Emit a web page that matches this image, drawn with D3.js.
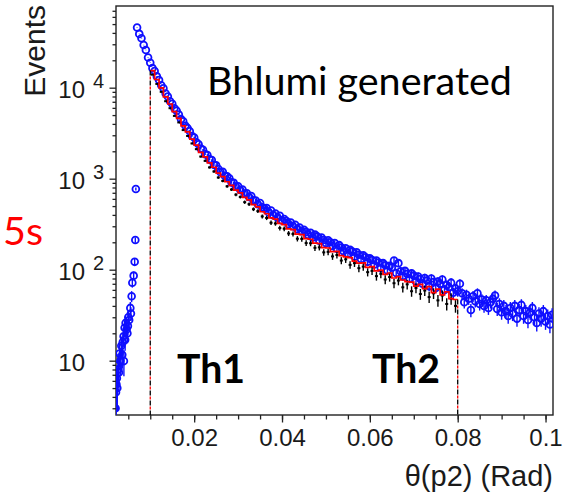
<!DOCTYPE html>
<html><head><meta charset="utf-8">
<script src="https://cdn.jsdelivr.net/npm/d3@7"></script>
<style>body{margin:0;background:#fff} svg{display:block}</style>
</head><body>
<svg id="c" width="572" height="495"></svg>
<script>
// ---- data ----
const binStart = 0.0070, binWidth = 0.0005;   // blue (Bhlumi) bin centres
const blueEvents = [45800,39000,34900,29400,25900,21500,18800,16400,15250,13300,
12150,10650,9850,8640,7990,7080,6640,5930,5590,5060,
4510,4270,3820,3590,3320,2950,2830,2510,2390,2140,
2080,1860,1820,1630,1600,1420,1400,1280,1180,1190,
1070,1060,1010,910,900,820,826,752,760,688,
692,630,645,580,575,524,541,485,470,475,
425,446,398,415,372,392,348,360,342,316,
330,300,312,279,290,264,275,260,240,255,
226,244,232,208,226,212,196,210,200,182,
196,170,186,175,160,172,150,165,158,140,
155,146,131,144,137,122,133,128,114,126,
120,104,118,112,98,110,106,126,92,118,
96,85,97,90,80,91,86,74,84,79,
70,81,76,66,80,73,63,74,70,78,
60,68,64,72,56,62,58,70,55,44,
53,48,36,51,45,55,42,47,40,46,
38,44,48,52,37,42,34,40,35,31,
38,33,40,29,36,41,31,35,28,34,
38,30,26,33,29,35,27,31,25,32];
const edgeTheta = [0.0021,0.0022,0.0023,0.0024,0.0025,0.00263,0.00275,0.00286,0.0030,0.0032,
0.00341,0.00363,0.00375,0.00393,0.0040,0.00416,0.00428,0.00439,0.0046,0.0048,
0.00491,0.0050,0.0052,0.00546,0.0056,0.00576,0.00592,0.00622,0.00645,0.0066,0.00672];
const edgeEvents = [3,4.5,5.5,6.4,5,8.9,8,7.4,12,10,
14.6,11.6,16,18.5,9.9,23,17,26,22,20,
24,30,28,38,33,51,72,86,122,212,771];
const redStart = 0.010, redWidth = 0.001;     // red histogram bins
const redEvents = [15400,12300,9950,7930,6620,5470,4600,3800,3270,2720,
2340,1950,1740,1490,1335,1150,1052,925,846,748,
700,622,584,519,490,433,412,371,360,322,
313,281,276,246,243,219,216,196,194,175,
173,158,159,143,138,136,124,118,119,106,
108,97,99,89,92,81,84,77,74,73,
66,69,62,65,56,61,53,57,48,47];
const blackEvents = [13900,11000,9000,7100,5950,4900,4150,3420,2950,2440,
2110,1750,1570,1330,1200,1030,945,825,760,668,
630,552,525,462,440,385,370,328,322,287,
282,250,247,219,218,196,195,174,176,155,
157,140,145,126,130,113,118,104,108,94,
97,85,90,78,83,71,76,64,69,58,
63,54,59,50,55,46,52,42,48,40];
const thresholds = [0.01, 0.08];
const thresholdLabels = ["Th1","Th2"];
const xTicks = [0.02,0.04,0.06,0.08,0.1];
const xTickLabels = ["0.02","0.04","0.06","0.08","0.1"];
const yTicks = [10,100,1000,10000];
const yTickExp = ["","2","3","4"];

// ---- layout ----
const L=116,R=553,T=6,B=415;
const svg = d3.select("#c");
const x = d3.scaleLinear().domain([0.0022,0.1017]).range([L,R]);
const y = d3.scaleLog().domain([2.53,79000]).range([B,T]);
const AX = "'Liberation Sans', Arial, sans-serif";
const TXT = "Lato, 'Open Sans', sans-serif";

svg.append("defs").append("clipPath").attr("id","clip")
  .append("rect").attr("x",L).attr("y",T).attr("width",R-L).attr("height",B-T);

// x axis
const minorX = d3.range(0.005,0.1015,0.005).filter(v=>x(v)>L+1 && x(v)<R-1);
svg.append("g").attr("transform",`translate(0,${B})`)
  .call(d3.axisBottom(x).tickValues(minorX).tickSize(4.5).tickFormat("").tickSizeOuter(0))
  .call(g=>{g.select(".domain").remove(); g.selectAll("line").attr("stroke","#222").attr("stroke-width",1.3);});
const gx = svg.append("g").attr("transform",`translate(0,${B})`)
  .call(d3.axisBottom(x).tickValues(xTicks).tickSize(7.5).tickPadding(6)
        .tickFormat((d,i)=>xTickLabels[i]).tickSizeOuter(0));
gx.select(".domain").remove();
gx.selectAll("line").attr("stroke","#222").attr("stroke-width",1.3);
gx.selectAll("text").attr("font-family",AX).attr("font-size",24).attr("fill","#1a1a1a");

// y axis
const minorY=[];
[1,10,100,1000,10000].forEach(d=>{for(let m=2;m<=9;m++){const v=m*d; if(v>2.6&&v<78000) minorY.push(v);}});
svg.append("g").attr("transform",`translate(${L},0)`)
  .call(d3.axisLeft(y).tickValues(minorY).tickSize(3.5).tickFormat("").tickSizeOuter(0))
  .call(g=>{g.select(".domain").remove(); g.selectAll("line").attr("stroke","#222").attr("stroke-width",1.3);});
svg.append("g").attr("transform",`translate(${L},0)`)
  .call(d3.axisLeft(y).tickValues(yTicks).tickSize(6.5).tickFormat("").tickSizeOuter(0))
  .call(g=>{g.select(".domain").remove(); g.selectAll("line").attr("stroke","#222").attr("stroke-width",1.3);});
const yl = svg.append("g");
yTicks.forEach((t,i)=>{
  yl.append("text").attr("x",85).attr("y",y(t)+10).attr("text-anchor","end")
    .attr("font-family",AX).attr("font-size",24).attr("fill","#1a1a1a").text("10");
  if(yTickExp[i]) yl.append("text").attr("x",93).attr("y",y(t)+0.5)
    .attr("font-family",AX).attr("font-size",20).attr("fill","#1a1a1a").text(yTickExp[i]);
});

// frame
svg.append("rect").attr("x",L).attr("y",T).attr("width",R-L).attr("height",B-T)
  .attr("fill","none").attr("stroke","#222").attr("stroke-width",1.4);

// data layer
const plot = svg.append("g").attr("clip-path","url(#clip)");
const blue = blueEvents.map((v,i)=>({t:binStart+i*binWidth, v}))
  .concat(edgeTheta.map((t,i)=>({t, v:edgeEvents[i]})));
const BLUE="#0f0fff";
plot.append("g").selectAll("line").data(blue).join("line")
  .attr("x1",d=>x(d.t)).attr("x2",d=>x(d.t))
  .attr("y1",d=>y(Math.max(d.v-Math.sqrt(d.v),1))).attr("y2",d=>y(d.v+Math.sqrt(d.v)))
  .attr("stroke",BLUE).attr("stroke-width",1.4);
plot.append("g").selectAll("circle").data(blue).join("circle")
  .attr("cx",d=>x(d.t)).attr("cy",d=>y(d.v)).attr("r",3.4)
  .attr("fill","none").attr("stroke",BLUE).attr("stroke-width",1.8);

// black points
const black = blackEvents.map((v,i)=>({t:redStart+(i+0.5)*redWidth, v}));
plot.append("g").selectAll("line").data(black).join("line")
  .attr("x1",d=>x(d.t)).attr("x2",d=>x(d.t))
  .attr("y1",d=>y(d.v-Math.sqrt(d.v))).attr("y2",d=>y(d.v+Math.sqrt(d.v)))
  .attr("stroke","#000").attr("stroke-width",1.4);
plot.append("g").selectAll("rect").data(black).join("rect")
  .attr("x",d=>x(d.t)-1.5).attr("y",d=>y(d.v)-1).attr("width",3).attr("height",2).attr("fill","#000");

// red histogram
const redPts = redEvents.map((v,i)=>[redStart+i*redWidth, v]);
redPts.push([redStart+redEvents.length*redWidth, redEvents[redEvents.length-1]]);
plot.append("path").attr("d", d3.line().x(d=>x(d[0])).y(d=>y(d[1])).curve(d3.curveStepAfter)(redPts))
  .attr("fill","none").attr("stroke","#ff0000").attr("stroke-width",1.7);

// threshold dashed lines
const thTop = [redEvents[0], redEvents[redEvents.length-1]];
thresholds.forEach((t,i)=>{
  const g = svg.append("g");
  g.append("line").attr("x1",x(t)).attr("x2",x(t)).attr("y1",y(thTop[i])).attr("y2",B)
    .attr("stroke","#ff0000").attr("stroke-width",1.3).attr("stroke-dasharray","3,7").attr("stroke-dashoffset",-6);
  g.append("line").attr("x1",x(t)).attr("x2",x(t)).attr("y1",y(thTop[i])).attr("y2",B)
    .attr("stroke","#000").attr("stroke-width",1.3).attr("stroke-dasharray","5,5");
});

// texts
function fit(sel, w){ const n=sel.node(); const fs=+sel.attr("font-size"); const l=n.getComputedTextLength(); sel.attr("font-size",fs*w/l); return sel; }
fit(svg.append("text").attr("x",207).attr("y",95).attr("font-family",TXT).attr("font-size",40)
  .attr("fill","#000").text("Bhlumi generated"), 305);
fit(svg.append("text").attr("x",3).attr("y",245).attr("font-family",TXT).attr("font-size",40)
  .attr("fill","#ff0000").text("5s"), 40);
const thX=[177,372];
thresholdLabels.forEach((s,i)=>{
  fit(svg.append("text").attr("x",thX[i]).attr("y",383).attr("font-family",TXT).attr("font-weight",700)
    .attr("font-size",44).attr("fill","#000").text(s), 68);
});
svg.append("text").attr("transform","translate(45,5) rotate(-90)").attr("text-anchor","end")
  .attr("font-family",AX).attr("font-size",30).attr("fill","#1a1a1a").text("Events");
svg.append("text").attr("x",553).attr("y",486).attr("text-anchor","end")
  .attr("font-family",AX).attr("font-size",29).attr("fill","#1a1a1a").text("θ(p2) (Rad)");
</script>
</body></html>
